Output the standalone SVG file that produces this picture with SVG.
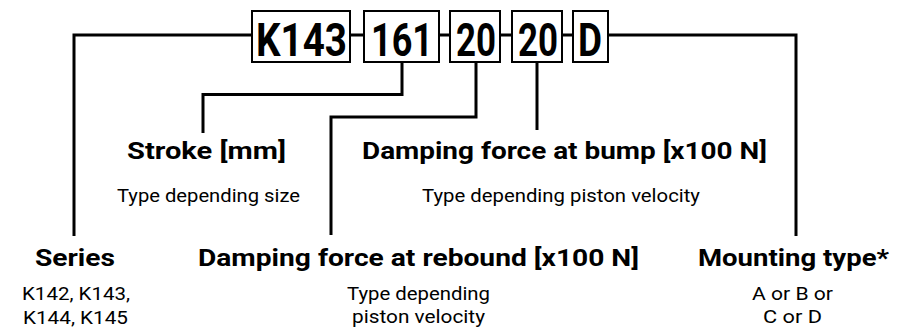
<svg xmlns="http://www.w3.org/2000/svg" width="910" height="330" viewBox="0 0 910 330">
<style>
.bg{fill:#fff}
.wire{fill:none;stroke:#000;stroke-width:3;stroke-linejoin:miter;stroke-linecap:butt}
.box{fill:#fff;stroke:#000;stroke-width:2}
.code{font-family:Roboto,"Liberation Sans",sans-serif;font-weight:bold;font-size:46px;fill:#000}
.title{font-family:Roboto,"Liberation Sans",sans-serif;font-weight:bold;font-size:24.5px;fill:#000}
.desc{font-family:Roboto,"Liberation Sans",sans-serif;font-weight:normal;font-size:18px;fill:#000}
</style>
<rect class="bg" x="0" y="0" width="910" height="330"/>
<g id="connectors">
  <polyline class="wire" points="74,236 74,35 796,35 796,236"/>
  <polyline class="wire" points="402,62 402,94.5 203,94.5 203,133"/>
  <polyline class="wire" points="476,62 476,117 331,117 331,235"/>
  <polyline class="wire" points="537,62 537,130"/>
</g>
<g id="code-series">
  <rect class="box" x="252" y="11" width="98" height="51"/>
  <text class="code" x="256" y="56" textLength="91" lengthAdjust="spacingAndGlyphs">K143</text>
</g>
<g id="code-stroke">
  <rect class="box" x="364" y="11" width="75" height="51"/>
  <text class="code" x="371" y="56" textLength="62" lengthAdjust="spacingAndGlyphs">161</text>
</g>
<g id="code-rebound">
  <rect class="box" x="450" y="11" width="50" height="51"/>
  <text class="code" x="456" y="56" textLength="40" lengthAdjust="spacingAndGlyphs">20</text>
</g>
<g id="code-bump">
  <rect class="box" x="512" y="11" width="50" height="51"/>
  <text class="code" x="518" y="56" textLength="40" lengthAdjust="spacingAndGlyphs">20</text>
</g>
<g id="code-mounting">
  <rect class="box" x="573" y="11" width="35" height="51"/>
  <text class="code" x="578" y="56" textLength="24" lengthAdjust="spacingAndGlyphs">D</text>
</g>
<g id="label-series">
  <text class="title" x="35" y="266" textLength="80" lengthAdjust="spacingAndGlyphs">Series</text>
  <text class="desc" x="22" y="300" textLength="108" lengthAdjust="spacingAndGlyphs">K142, K143,</text>
  <text class="desc" x="23" y="324" textLength="105" lengthAdjust="spacingAndGlyphs">K144, K145</text>
</g>
<g id="label-stroke">
  <text class="title" x="127" y="159" textLength="159" lengthAdjust="spacingAndGlyphs">Stroke [mm]</text>
  <text class="desc" x="117" y="201.5" textLength="183" lengthAdjust="spacingAndGlyphs">Type depending size</text>
</g>
<g id="label-bump">
  <text class="title" x="362" y="159" textLength="405" lengthAdjust="spacingAndGlyphs">Damping force at bump [x100 N]</text>
  <text class="desc" x="422" y="201.5" textLength="278" lengthAdjust="spacingAndGlyphs">Type depending piston velocity</text>
</g>
<g id="label-rebound">
  <text class="title" x="198" y="266" textLength="441" lengthAdjust="spacingAndGlyphs">Damping force at rebound [x100 N]</text>
  <text class="desc" x="347" y="300" textLength="143" lengthAdjust="spacingAndGlyphs">Type depending</text>
  <text class="desc" x="352" y="323" textLength="133" lengthAdjust="spacingAndGlyphs">piston velocity</text>
</g>
<g id="label-mounting">
  <text class="title" x="698" y="266" textLength="191" lengthAdjust="spacingAndGlyphs">Mounting type*</text>
  <text class="desc" x="752" y="299.5" textLength="81" lengthAdjust="spacingAndGlyphs">A or B or</text>
  <text class="desc" x="763" y="323" textLength="59" lengthAdjust="spacingAndGlyphs">C or D</text>
</g>
</svg>
